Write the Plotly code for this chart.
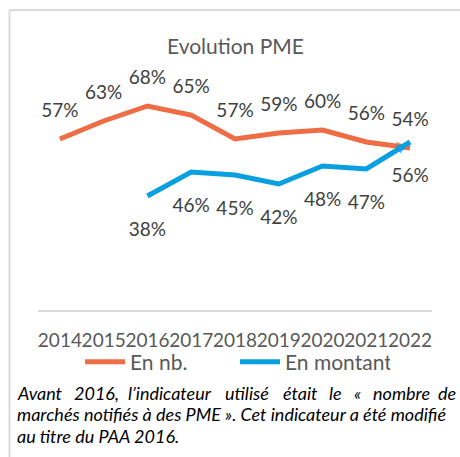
import plotly.graph_objects as go

years = ["2014", "2015", "2016", "2017", "2018", "2019", "2020", "2021", "2022"]
en_nb = [57, 63, 68, 65, 57, 59, 60, 56, 54]
en_montant = [None, None, 38, 46, 45, 42, 48, 47, 56]
series_names = ["En nb.", "En montant"]
title_text = "Evolution PME"
footnote_line1 = ["Avant", "2016,", "l’indicateur", "utilisé", "était", "le", "«", "nombre", "de"]
footnote_line2 = "marchés notifiés à des PME ». Cet indicateur a été modifié"
footnote_line3 = "au titre du PAA 2016."

ORANGE = "#EE6D44"
BLUE = "#0A9FE0"
FONT = "Lato"

W, H = 460, 457
L, R, T, B = 38, 28, 70, 147
pw, ph = W - L - R, H - T - B

def px(x):
    return (x - L) / pw

def py(y):
    return (H - B - y) / ph

fig = go.Figure()

def add_series(name, vals, color, pos, gap):
    fig.add_trace(go.Scatter(
        x=years, y=vals, mode="lines", name=name,
        line=dict(color=color, width=5), showlegend=True,
    ))
    n = len(vals)
    fig.add_trace(go.Scatter(
        x=years, y=vals, mode="markers", showlegend=False, hoverinfo="skip",
        marker=dict(symbol="arrow", angleref="previous", color=color,
                    size=[0] * (n - 1) + [15], line=dict(width=0)),
    ))
    fig.add_trace(go.Scatter(
        x=years, y=vals, mode="markers+text", showlegend=False, hoverinfo="skip",
        text=[f"{v}%" if v is not None else "" for v in vals],
        textposition=pos, cliponaxis=False,
        textfont=dict(family=FONT, size=19, color="#404040"),
        marker=dict(size=gap, color="rgba(0,0,0,0)"),
    ))

add_series(series_names[0], en_nb, ORANGE, "top center", 26)
add_series(series_names[1], en_montant, BLUE, "bottom center", 40)

shapes = [
    dict(type="line", xref="paper", yref="paper", x0=px(9.5), x1=px(470), y0=py(10), y1=py(10),
         line=dict(color="#D9D9D9", width=2)),
    dict(type="line", xref="paper", yref="paper", x0=px(9.5), x1=px(9.5), y0=py(10), y1=py(470),
         line=dict(color="#D9D9D9", width=2)),
]

annotations = [
    dict(text=title_text, xref="paper", yref="paper", x=px(236), y=py(46), showarrow=False,
         xanchor="center", yanchor="middle", font=dict(family=FONT, size=21, color="#595959")),
]
FN = dict(family=FONT, size=18, color="#000000")
word_x = [15, 72, 126, 223, 281, 327, 352, 371, 458]
for i, (w, x) in enumerate(zip(footnote_line1, word_x)):
    anchor = "right" if i == len(word_x) - 1 else "left"
    annotations.append(dict(text=f"<i>{w}</i>", xref="paper", yref="paper", x=px(x), y=py(393),
                            showarrow=False, xanchor=anchor, yanchor="middle", font=FN))
for txt, y in [(footnote_line2, 414), (footnote_line3, 436)]:
    annotations.append(dict(text=f"<i>{txt}</i>", xref="paper", yref="paper", x=px(15), y=py(y),
                            showarrow=False, xanchor="left", yanchor="middle", font=FN))

fig.update_layout(
    width=W, height=H, margin=dict(l=L, r=R, t=T, b=B),
    plot_bgcolor="white", paper_bgcolor="white",
    showlegend=True,
    legend=dict(orientation="h", x=0.5, xanchor="center", y=py(362), yanchor="middle",
                font=dict(family=FONT, size=21, color="#595959"), itemwidth=40,
                entrywidth=100, bgcolor="rgba(0,0,0,0)"),
    shapes=shapes, annotations=annotations,
    xaxis=dict(type="category", range=[-0.5, 8.5], showgrid=False, zeroline=False, showline=True,
               linecolor="#D9D9D9", linewidth=2, ticks="", ticklabelstandoff=12, tickangle=0,
               tickfont=dict(family=FONT, size=19, color="#595959")),
    yaxis=dict(range=[0, 80], visible=False, showgrid=False, zeroline=False),
)

fig.write_html("out.html", config={"displayModeBar": False},
               post_script="document.body.style.margin='0';")
